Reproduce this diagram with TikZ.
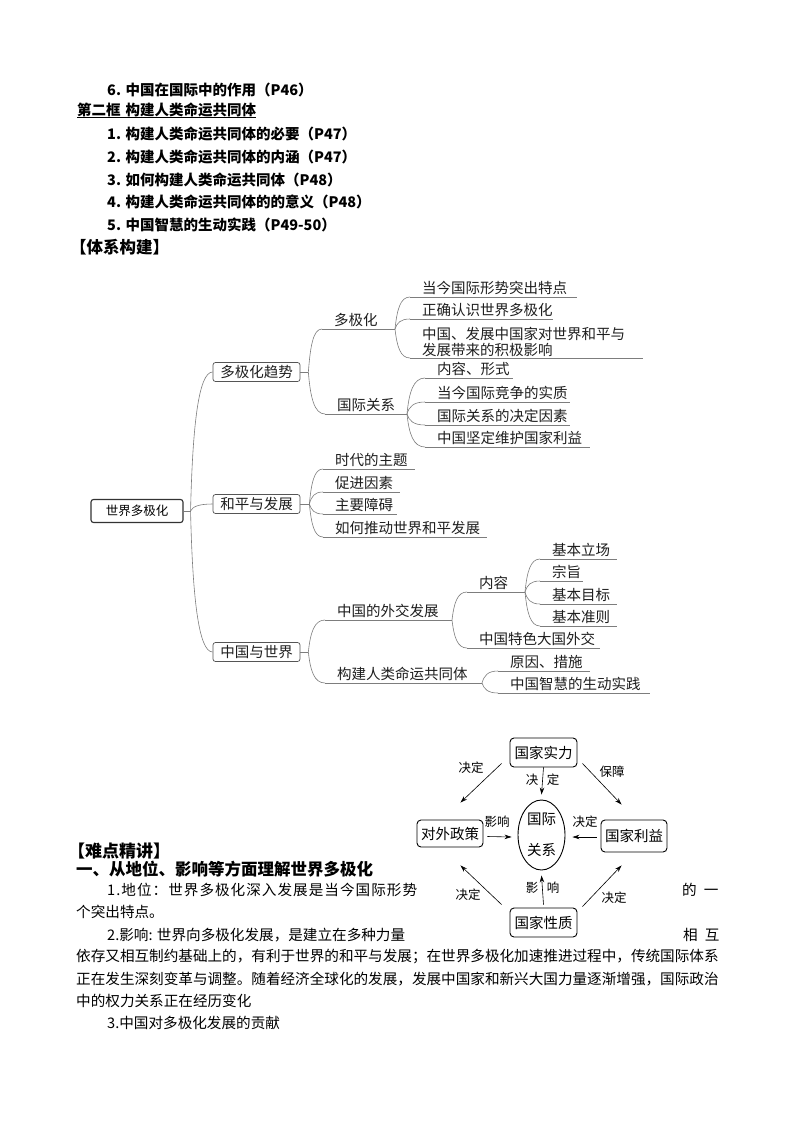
\documentclass[tikz,border=0pt]{standalone}
\usepackage{fontspec}
\setmainfont{Noto Sans CJK SC}
\usetikzlibrary{calc,arrows.meta,shapes.geometric}
\definecolor{mmgray}{RGB}{125,125,125}
\definecolor{boxgray}{RGB}{85,85,85}
\definecolor{txt}{RGB}{30,30,30}
\newcommand\mmleaf[5]{%
  \coordinate (#1-s) at (#2,#3);
  \coordinate (#1-e) at (#4,#3);
  \draw[mmline] (#1-s) -- (#1-e);
  \node[mmtext] (#1) at ($(#1-s)+(12,-3.5)$) {#5};
}
\newcommand\mmcurve[2]{\draw[mmline] let \p1=(#1), \p2=(#2) in (\p1) .. controls (\x1+2pt, {\y1+0.6*(\y2-\y1)}) and ({\x1+0.35*(\x2-\x1)}, \y2) .. (\p2);}
\newcommand\jlA[1]{#1\jlB}
\newcommand\jlB[1]{\ifx#1\relax\else\hfil#1\expandafter\jlB\fi}
\newcommand\jline[2]{\makebox[#1][s]{\jlA#2\relax}}
\begin{document}
\begin{tikzpicture}[x=1pt,y=-1pt,
  mmline/.style={draw=mmgray, line width=0.6pt},
  mmtext/.style={anchor=base west, inner sep=0pt, font=\fontsize{14.5}{15.5}\selectfont, text=txt},
  box1/.style={draw=boxgray, rounded corners=2.5pt, line width=0.7pt, minimum width=87pt, minimum height=19pt, inner sep=0pt, font=\fontsize{14.5}{16}\selectfont, text=txt},
  root/.style={draw=black!80, rounded corners=2.5pt, line width=1.1pt, minimum width=92pt, minimum height=23pt, inner sep=0pt, font=\fontsize{12.5}{14}\selectfont},
  toplist/.style={anchor=west, inner sep=0pt, font=\fontsize{14.5}{16}\selectfont\bfseries},
  head/.style={anchor=west, inner sep=0pt, font=\fontsize{16.5}{18}\selectfont\bfseries},
  body/.style={anchor=west, inner sep=0pt, font=\fontsize{14.6}{16}\selectfont},
  dbox/.style={draw=black, rounded corners=4pt, line width=0.9pt, inner sep=0pt, minimum width=67pt, minimum height=29pt, font=\fontsize{14.5}{16}\selectfont},
  darr/.style={-{Stealth[length=7pt,width=4.5pt]}, line width=0.6pt},
  dlab/.style={inner sep=0pt, font=\fontsize{12.5}{14}\selectfont}
]
\fill[white] (0,0) rectangle (794,1123);
\useasboundingbox (0,0) rectangle (794,1123);

% ---------- top list ----------
\node[toplist] (t6) at (107,90) {6. 中国在国际中的作用（P46）};
\node[toplist] (t0) at (77,110) {第二框\hspace{5pt}构建人类命运共同体};
\draw[line width=0.8pt] (t0.south west) -- (t0.south east);
\node[toplist] (t1) at (107,134) {1. 构建人类命运共同体的必要（P47）};
\node[toplist] (t2) at (107,157) {2. 构建人类命运共同体的内涵（P47）};
\node[toplist] (t3) at (107,180) {3. 如何构建人类命运共同体（P48）};
\node[toplist] (t4) at (107,202) {4. 构建人类命运共同体的的意义（P48）};
\node[toplist] (t5) at (107,225) {5. 中国智慧的生动实践（P49-50）};
\node[head] (t7) at (70,247) {【体系构建】};

% ---------- mind map ----------
\node[root] (r) at (137,511) {世界多极化};
\draw[mmline] (r.east) -- ++(7,0) coordinate (r-f);
\node[box1] (b1) at (256.5,372) {多极化趋势};
\node[box1] (b2) at (256.5,504) {和平与发展};
\node[box1] (b3) at (256.5,652) {中国与世界};
\mmcurve{r-f}{b1.west}
\mmcurve{r-f}{b2.west}
\mmcurve{r-f}{b3.west}

% branch 1
\draw[mmline] (b1.east) -- ++(8,0) coordinate (b1-f);
\mmleaf{dj}{322}{329}{395}{多极化}
\mmleaf{gj}{325}{414}{407}{国际关系}
\mmcurve{b1-f}{dj-s}
\mmcurve{b1-f}{gj-s}
\mmleaf{a1}{410}{297}{577}{当今国际形势突出特点}
\mmleaf{a2}{410}{319}{553}{正确认识世界多极化}
\coordinate (a3-s) at (410,358);
\coordinate (a3-e) at (643,358);
\draw[mmline] (a3-s) -- (a3-e);
\node[mmtext, anchor=south west, align=left] (a3) at ($(a3-s)+(12,-1.5)$) {中国、发展中国家对世界和平与\\发展带来的积极影响};
\mmcurve{dj-e}{a1-s}
\mmcurve{dj-e}{a2-s}
\mmcurve{dj-e}{a3-s}
\mmleaf{k1}{425}{378}{513}{内容、形式}
\mmleaf{k2}{425}{402}{570}{当今国际竞争的实质}
\mmleaf{k3}{425}{425}{570}{国际关系的决定因素}
\mmleaf{k4}{425}{447}{590}{中国坚定维护国家利益}
\mmcurve{gj-e}{k1-s}
\mmcurve{gj-e}{k2-s}
\mmcurve{gj-e}{k3-s}
\mmcurve{gj-e}{k4-s}

% branch 2
\draw[mmline] (b2.east) -- ++(9,0) coordinate (b2-f);
\mmleaf{c1}{323}{469}{415}{时代的主题}
\mmleaf{c2}{323}{492}{400}{促进因素}
\mmleaf{c3}{323}{514}{397}{主要障碍}
\mmleaf{c4}{323}{537}{487}{如何推动世界和平发展}
\mmcurve{b2-f}{c1-s}
\mmcurve{b2-f}{c2-s}
\mmcurve{b2-f}{c3-s}
\mmcurve{b2-f}{c4-s}

% branch 3
\draw[mmline] (b3.east) -- ++(8,0) coordinate (b3-f);
\mmleaf{d1}{325}{620}{452}{中国的外交发展}
\mmleaf{d2}{325}{683}{482}{构建人类命运共同体}
\mmcurve{b3-f}{d1-s}
\mmcurve{b3-f}{d2-s}
\mmleaf{e1}{467}{592}{525}{内容}
\mmleaf{e2}{467}{648}{600}{中国特色大国外交}
\mmcurve{d1-e}{e1-s}
\mmcurve{d1-e}{e2-s}
\mmleaf{f1}{540}{559}{617}{基本立场}
\mmleaf{f2}{540}{581}{583}{宗旨}
\mmleaf{f3}{540}{604}{617}{基本目标}
\mmleaf{f4}{540}{626}{617}{基本准则}
\mmcurve{e1-e}{f1-s}
\mmcurve{e1-e}{f2-s}
\mmcurve{e1-e}{f3-s}
\mmcurve{e1-e}{f4-s}
\mmleaf{g1}{498}{671}{590}{原因、措施}
\mmleaf{g2}{498}{693}{650}{中国智慧的生动实践}
\mmcurve{d2-e}{g1-s}
\mmcurve{d2-e}{g2-s}

% ---------- relation diagram ----------
\node[dbox] (sl) at (543.5,752.5) {国家实力};
\node[dbox, minimum width=66pt, minimum height=27pt] (dw) at (450,833.5) {对外政策};
\node[dbox, minimum width=66pt, minimum height=32pt] (ly) at (634,836) {国家利益};
\node[dbox] (xz) at (543.5,922.5) {国家性质};
\node[ellipse, draw, line width=0.9pt, minimum width=47pt, minimum height=70pt, inner sep=0pt, align=center, font=\fontsize{14.5}{31}\selectfont] (gx) at (541.5,835) {国际\\关系};

\draw[darr] ($(sl.south west)+(-8,-4)$) -- ($(dw.north east)+(-23,-17)$);
\draw[darr] ($(sl.south east)+(5,-4)$) -- ($(ly.north west)+(21,-15)$);
\draw[darr] ($(xz.north west)+(-8,-3)$) -- ($(dw.south east)+(-23,18)$);
\draw[darr] ($(xz.north east)+(5,-1)$) -- ($(ly.south west)+(21,13)$);
\draw[darr] (sl.south) -- ($(gx.north)+(0,-5)$);
\draw[darr] ($(xz.north)+(0,-3)$) -- ($(gx.south)+(0,5)$);
\draw[darr] ($(dw.east)+(4,3)$) -- ($(gx.west)+(-6,2)$);
\draw[darr] ($(ly.west)+(-4,1)$) -- ($(gx.east)+(7,2)$);

\node[dlab] (lb1) at (471,768) {决定};
\node[dlab] (lb2) at (612,772) {保障};
\node[dlab] (lb3) at (532,780) {决};
\node[dlab] (lb4) at (553,780) {定};
\node[dlab] (lb5) at (497,822) {影响};
\node[dlab] (lb6) at (585,822) {决定};
\node[dlab] (lb7) at (532,888) {影};
\node[dlab] (lb8) at (553,888) {响};
\node[dlab] (lb9) at (468,895) {决定};
\node[dlab] (lb10) at (614,898) {决定};

% ---------- body text ----------
\node[head, font=\fontsize{17}{18}\selectfont\bfseries] (h1) at (68,851) {【难点精讲】};
\node[head] (h2) at (76,869) {一、从地位、影响等方面理解世界多极化};
\node[body] (l1) at (107,890) {\jline{310pt}{1.地位：世界多极化深入发展是当今国际形势}};
\node[body] (l1b) at (682,890) {的\hspace{7pt}一};
\node[body] (l2) at (76,912) {个突出特点。};
\node[body] (l3) at (107,935) {2.影响: 世界向多极化发展，是建立在多种力量};
\node[body] (l3b) at (683,935) {相\hspace{7pt}互};
\node[body] (l4) at (76,957) {\jline{642pt}{依存又相互制约基础上的，有利于世界的和平与发展；在世界多极化加速推进过程中，传统国际体系}};
\node[body] (l5) at (76,979) {\jline{642pt}{正在发生深刻变革与调整。随着经济全球化的发展，发展中国家和新兴大国力量逐渐增强，国际政治}};
\node[body] (l6) at (76,1001) {中的权力关系正在经历变化};
\node[body] (l7) at (107,1023) {3.中国对多极化发展的贡献};
\end{tikzpicture}
\end{document}
